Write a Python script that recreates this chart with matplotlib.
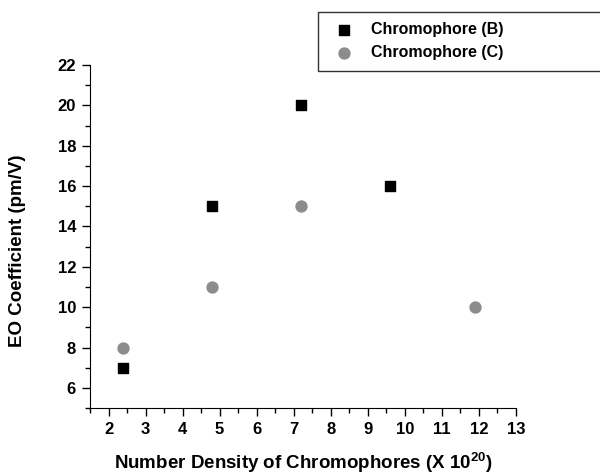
import matplotlib
matplotlib.use("Agg")
import matplotlib.pyplot as plt
from matplotlib.ticker import MultipleLocator

# data
density_b = [2.4, 4.8, 7.2, 9.6]
eo_b = [7, 15, 20, 16]
density_c = [2.4, 4.8, 7.2, 11.9]
eo_c = [8, 11, 15, 10]

plt.rcParams['font.family'] = ['Liberation Sans', 'DejaVu Sans']
plt.rcParams['font.weight'] = 'bold'
plt.rcParams['mathtext.fontset'] = 'custom'
plt.rcParams['mathtext.bf'] = 'Liberation Sans:bold'

fig = plt.figure(figsize=(6, 4.75), dpi=100)
ax = fig.add_axes([0.15, 0.141, 0.71, 0.722])

ax.scatter(density_b, eo_b, marker='s', s=48, color='black', label='Chromophore (B)', zorder=3)
ax.scatter(density_c, eo_c, marker='o', s=62, color='#8c8c8c', label='Chromophore (C)', zorder=3)

ax.set_xlim(1.5, 13)
ax.set_ylim(5, 22)
ax.xaxis.set_major_locator(MultipleLocator(1))
ax.xaxis.set_minor_locator(MultipleLocator(0.5))
ax.yaxis.set_major_locator(MultipleLocator(2))
ax.yaxis.set_minor_locator(MultipleLocator(1))

for side in ['top', 'right']:
    ax.spines[side].set_visible(False)
ax.tick_params(which='major', direction='out', length=6, width=1, labelsize=12, pad=4)
ax.tick_params(which='minor', direction='out', length=3.5, width=1)
for lab in ax.get_xticklabels() + ax.get_yticklabels():
    lab.set_fontweight('bold')

ax.set_xlabel('Number Density of Chromophores (X 10$^{\\mathbf{20}}$)', fontsize=13.5, fontweight='bold')
ax.set_ylabel('EO Coefficient (pm/V)', fontsize=13.5, fontweight='bold')
ax.xaxis.set_label_coords(0.5, -0.122)
ax.yaxis.set_label_coords(-0.15, 0.46)

# legend box runs past the right edge of the figure
leg = fig.legend(loc='upper left', bbox_to_anchor=(318 / 600, 1 - 12 / 475, 0.5, 0.0), mode='expand',
                 frameon=True, fancybox=False, edgecolor='black', borderpad=0.65, handletextpad=0.65,
                 labelspacing=0.5, borderaxespad=0, prop={'weight': 'bold', 'size': 11.5})
leg.get_frame().set_linewidth(1)

fig.savefig('out.png', dpi=100)
